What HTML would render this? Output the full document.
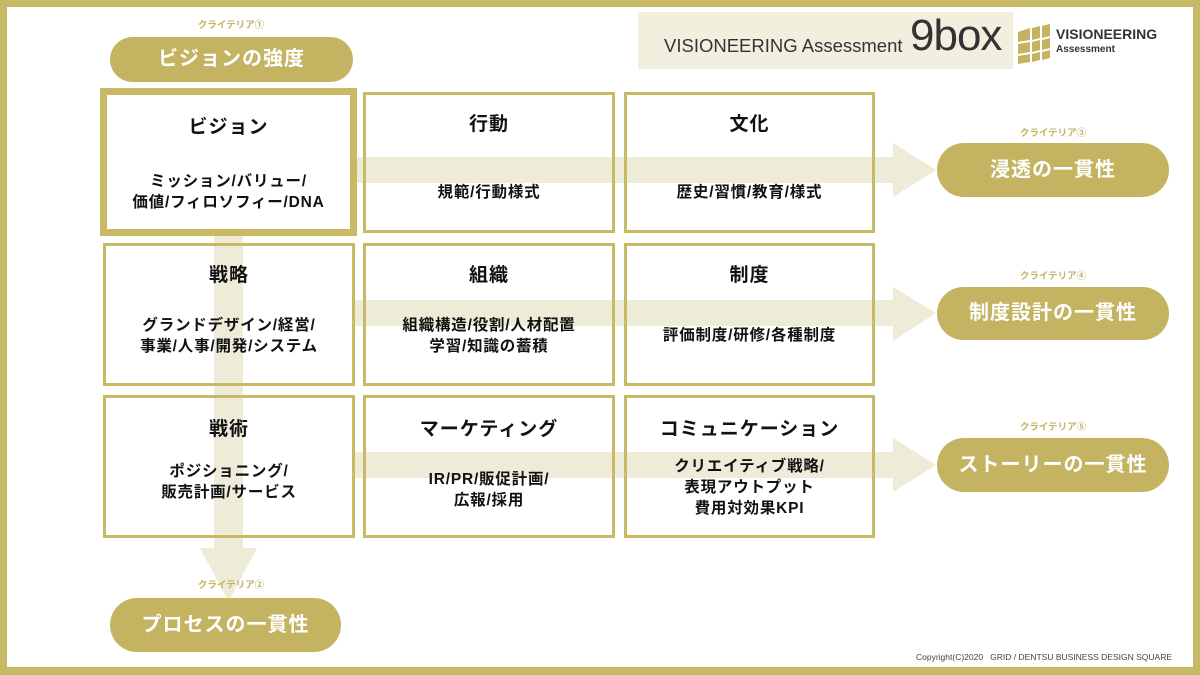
<!DOCTYPE html>
<html><head><meta charset="utf-8"><style>
*{margin:0;padding:0;box-sizing:border-box}
body{width:1200px;height:675px;position:relative;background:#fff;font-family:"Liberation Sans","Noto Sans CJK JP",sans-serif;overflow:hidden}
.a{position:absolute}
.frame{left:0;top:0;width:1200px;height:675px;border:7px solid #c8b965;border-bottom-width:8px}
.box{position:absolute;border:3px solid #c8b965;text-align:center;color:#111;font-weight:bold}
.box .t{position:absolute;left:0;right:0;font-size:19px;letter-spacing:1px}
.box .s{position:absolute;left:0;right:0;font-size:15.5px;line-height:21px;letter-spacing:0.8px}
.pill{position:absolute;background:#c4b462;color:#fff;border-radius:27px;text-align:center;font-weight:bold;font-size:20px;letter-spacing:1px}
.cr{position:absolute;color:#c4b462;font-size:9.5px;font-weight:bold;text-align:center;width:120px}
</style></head><body>
<div class="a frame"></div>
<svg class="a" style="left:0;top:0" width="1200" height="675">
<g fill="#efebd9">
<rect x="214" y="236" width="29" height="314"/>
<polygon points="200,548 257,548 228.5,602"/>
<rect x="355" y="157" width="540" height="26"/>
<polygon points="893,143 893,197 936,170"/>
<rect x="355" y="300" width="540" height="26"/>
<polygon points="893,287 893,341 936,313"/>
<rect x="355" y="452" width="540" height="26"/>
<polygon points="893,438 893,492 936,465"/>
</g>
<g fill="#c4b462">
<polygon points="1018,32 1030,28 1030,40 1018,42"/><polygon points="1032,28 1040,26 1040,38 1032,40"/><polygon points="1042,26 1050,24 1050,36 1042,38"/>
<polygon points="1018,44 1030,42 1030,52 1018,54"/><polygon points="1032,42 1040,40 1040,50 1032,52"/><polygon points="1042,40 1050,38 1050,48 1042,50"/>
<polygon points="1018,56 1030,54 1030,62 1018,64"/><polygon points="1032,54 1040,52 1040,60 1032,62"/><polygon points="1042,52 1050,50 1050,58 1042,60"/>
</g>
</svg>
<div class="a" style="left:638px;top:12px;width:375px;height:57px;background:#f3efdf"></div>
<div class="a" style="left:664px;top:35px;font-size:18.5px;color:#333">VISIONEERING Assessment</div>
<div class="a" style="left:910px;top:11px;font-size:44px;color:#333;letter-spacing:-1px">9box</div>
<div class="a" style="left:1056px;top:26px;font-size:14px;font-weight:bold;color:#333">VISIONEERING</div>
<div class="a" style="left:1056px;top:44px;font-size:10px;font-weight:bold;color:#333">Assessment</div>

<div class="cr" style="left:171px;top:17px">クライテリア①</div>
<div class="pill" style="left:110px;top:37px;width:243px;height:45px;line-height:45px">ビジョンの強度</div>
<div class="cr" style="left:171px;top:577px">クライテリア②</div>
<div class="pill" style="left:110px;top:598px;width:231px;height:54px;line-height:54px">プロセスの一貫性</div>
<div class="cr" style="left:993px;top:125px">クライテリア③</div>
<div class="pill" style="left:937px;top:143px;width:232px;height:54px;line-height:54px">浸透の一貫性</div>
<div class="cr" style="left:993px;top:268px">クライテリア④</div>
<div class="pill" style="left:937px;top:287px;width:232px;height:53px;line-height:53px">制度設計の一貫性</div>
<div class="cr" style="left:993px;top:419px">クライテリア⑤</div>
<div class="pill" style="left:937px;top:438px;width:232px;height:54px;line-height:54px">ストーリーの一貫性</div>

<div class="box" style="left:100px;top:88px;width:257px;height:148px;border-width:7px"><div class="t" style="top:17px">ビジョン</div><div class="s" style="top:76px">ミッション/バリュー/<br>価値/フィロソフィー/DNA</div></div>
<div class="box" style="left:363px;top:92px;width:252px;height:141px"><div class="t" style="top:14px">行動</div><div class="s" style="top:87px">規範/行動様式</div></div>
<div class="box" style="left:624px;top:92px;width:251px;height:141px"><div class="t" style="top:14px">文化</div><div class="s" style="top:87px">歴史/習慣/教育/様式</div></div>

<div class="box" style="left:103px;top:243px;width:252px;height:143px"><div class="t" style="top:14px">戦略</div><div class="s" style="top:69px">グランドデザイン/経営/<br>事業/人事/開発/システム</div></div>
<div class="box" style="left:363px;top:243px;width:252px;height:143px"><div class="t" style="top:14px">組織</div><div class="s" style="top:69px">組織構造/役割/人材配置<br>学習/知識の蓄積</div></div>
<div class="box" style="left:624px;top:243px;width:251px;height:143px"><div class="t" style="top:14px">制度</div><div class="s" style="top:79px">評価制度/研修/各種制度</div></div>

<div class="box" style="left:103px;top:395px;width:252px;height:143px"><div class="t" style="top:16px">戦術</div><div class="s" style="top:63px">ポジショニング/<br>販売計画/サービス</div></div>
<div class="box" style="left:363px;top:395px;width:252px;height:143px"><div class="t" style="top:16px">マーケティング</div><div class="s" style="top:71px">IR/PR/販促計画/<br>広報/採用</div></div>
<div class="box" style="left:624px;top:395px;width:251px;height:143px"><div class="t" style="top:16px">コミュニケーション</div><div class="s" style="top:58px">クリエイティブ戦略/<br>表現アウトプット<br>費用対効果KPI</div></div>

<div class="a" style="left:916px;top:652px;font-size:8.5px;color:#444">Copyright(C)2020&nbsp;&nbsp; GRID / DENTSU BUSINESS DESIGN SQUARE</div>
</body></html>
